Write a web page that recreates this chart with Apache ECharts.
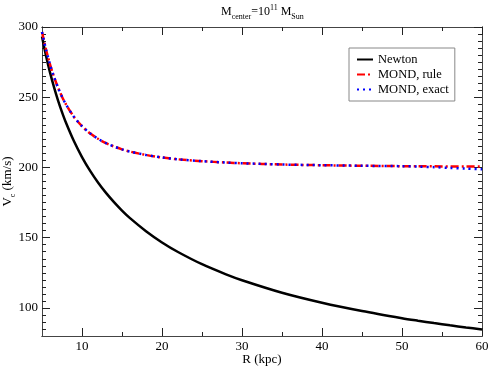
<!DOCTYPE html>
<html>
<head>
<meta charset="utf-8">
<script src="https://cdn.jsdelivr.net/npm/echarts@6/dist/echarts.min.js"></script>
<style>html,body{margin:0;padding:0;background:#fff}#c{width:491px;height:367px}</style>
</head>
<body>
<div id="c"></div>
<script>
// R (kpc)
var radius = [5, 5.5, 6, 6.5, 7, 7.5, 8, 9, 10, 11, 12, 13, 14, 15, 16, 18, 20, 22, 25, 28, 30, 35, 40, 45, 50, 52, 54, 56, 58, 60];
// V_c (km/s)
var newton = [293.2, 279.6, 267.7, 257.2, 247.8, 239.4, 231.8, 218.6, 207.4, 197.7, 189.3, 181.9, 175.3, 169.3, 163.9, 154.6, 146.6, 139.8, 131.1, 123.9, 119.7, 110.8, 103.7, 97.8, 92.7, 90.9, 89.2, 87.6, 86.1, 84.7];
var mondRule = [296.4, 284.0, 273.4, 264.5, 256.9, 250.4, 244.9, 236.0, 229.4, 224.3, 220.4, 217.3, 214.9, 212.9, 211.3, 208.9, 207.1, 205.8, 204.5, 203.5, 203.0, 202.1, 201.6, 201.2, 200.9, 200.8, 200.8, 200.7, 200.7, 200.6];
var mondExact = [296.4, 284.0, 273.4, 264.5, 256.9, 250.4, 244.9, 236.0, 229.4, 224.3, 220.4, 217.3, 214.9, 212.9, 211.3, 208.9, 207.1, 205.8, 204.5, 203.5, 203.0, 202.1, 201.6, 201.2, 200.9, 200.6, 200.2, 199.7, 199.2, 198.7];
var xMajor = [10, 20, 30, 40, 50, 60];
var xMinor = [15, 25, 35, 45, 55];
var yMajor = [100, 150, 200, 250, 300];
var yMinor = [85, 90, 95, 105, 110, 115, 120, 125, 130, 135, 140, 145, 155, 160, 165, 170, 175, 180, 185, 190, 195, 205, 210, 215, 220, 225, 230, 235, 240, 245, 255, 260, 265, 270, 275, 280, 285, 290, 295];

var FF = "'Liberation Serif', 'Times New Roman', serif";
function pairs(ys) { return radius.map(function (r, i) { return [r, ys[i]]; }); }
var frame = { show: true, lineStyle: { color: '#444', width: 1 } };
function xAx(pos, ticks, len, labels) {
  return {
    type: 'value', position: pos, min: 5, max: 60,
    axisLine: frame,
    axisTick: { show: true, inside: true, length: len, customValues: ticks, lineStyle: { color: '#222', width: 1 } },
    axisLabel: labels ? { show: true, customValues: ticks, color: '#000', fontFamily: FF, fontSize: 13, margin: 4 } : { show: false },
    splitLine: { show: false }
  };
}
function yAx(pos, ticks, len, labels) {
  return {
    type: 'value', position: pos, min: 80, max: 300,
    axisLine: frame,
    axisTick: { show: true, inside: true, length: len, customValues: ticks, lineStyle: { color: '#222', width: 1 } },
    axisLabel: labels ? { show: true, customValues: ticks, color: '#000', fontFamily: FF, fontSize: 13, margin: 4 } : { show: false },
    splitLine: { show: false }
  };
}
var xa0 = xAx('bottom', xMajor, 8, true);
xa0.name = 'R (kpc)';
xa0.nameLocation = 'middle';
xa0.nameGap = 17;
xa0.nameMoveOverlap = false;
xa0.nameTextStyle = { color: '#000', fontFamily: FF, fontSize: 13 };
var ya0 = yAx('left', yMajor, 8, true);
ya0.name = '{m|V}{s|c}{m| (km/s)}';
ya0.nameLocation = 'middle';
ya0.nameRotate = 90;
ya0.nameGap = 25;
ya0.nameMoveOverlap = false;
ya0.nameTextStyle = { color: '#000', fontFamily: FF, fontSize: 13,
  rich: { m: { fontFamily: FF, fontSize: 13, color: '#000', verticalAlign: 'bottom', padding: [0, 0, 3, 0] },
          s: { fontFamily: FF, fontSize: 8, color: '#000', verticalAlign: 'bottom' } } };

var option = {
  animation: false,
  backgroundColor: '#fff',
  title: {
    text: '{m|M}{s|center}{m|=10}{p|11}{m| M}{s|Sun}',
    left: 216, top: -1,
    textStyle: { fontFamily: FF, color: '#000', fontWeight: 'normal',
      rich: {
        m: { fontFamily: FF, fontSize: 12, fontWeight: 'normal', color: '#000', verticalAlign: 'bottom', padding: [0, 0, 3, 0] },
        s: { fontFamily: FF, fontSize: 8, fontWeight: 'normal', color: '#000', verticalAlign: 'bottom' },
        p: { fontFamily: FF, fontSize: 8, fontWeight: 'normal', color: '#000', verticalAlign: 'bottom', padding: [0, 0, 9, 0] }
      } }
  },
  grid: { left: 42, right: 9, top: 27, bottom: 31, containLabel: false, outerBoundsMode: 'none' },
  legend: {
    orient: 'vertical', left: 349, top: 48,
    backgroundColor: '#fff', borderColor: '#888', borderWidth: 1,
    padding: [5, 6, 5, 7], itemGap: 2, itemWidth: 16, itemHeight: 12,
    itemStyle: { color: 'rgba(0,0,0,0)', borderColor: 'rgba(0,0,0,0)', borderWidth: 0 },
    textStyle: { fontFamily: FF, fontSize: 12.5, color: '#000' },
    data: ['Newton', 'MOND, rule', 'MOND, exact']
  },
  xAxis: [xa0, xAx('bottom', xMinor, 4, false), xAx('top', xMajor, 8, false), xAx('top', xMinor, 4, false)],
  yAxis: [ya0, yAx('left', yMinor, 4, false), yAx('right', yMajor, 8, false), yAx('right', yMinor, 4, false)],
  series: [
    { name: 'Newton', type: 'line', data: pairs(newton), symbol: 'none', smooth: 0.3,
      lineStyle: { color: '#000', width: 2.5 }, itemStyle: { color: '#000' } },
    { name: 'MOND, rule', type: 'line', data: pairs(mondRule), symbol: 'none', smooth: 0.3,
      lineStyle: { color: '#ff0000', width: 2.5, type: [8, 3, 2, 3] }, itemStyle: { color: '#ff0000' } },
    { name: 'MOND, exact', type: 'line', data: pairs(mondExact), symbol: 'none', smooth: 0.3,
      lineStyle: { color: '#0000ff', width: 2.5, type: [2, 4] }, itemStyle: { color: '#0000ff' } }
  ]
};
var chart = echarts.init(document.getElementById('c'), null, { renderer: 'canvas' });
chart.setOption(option);
</script>
</body>
</html>
